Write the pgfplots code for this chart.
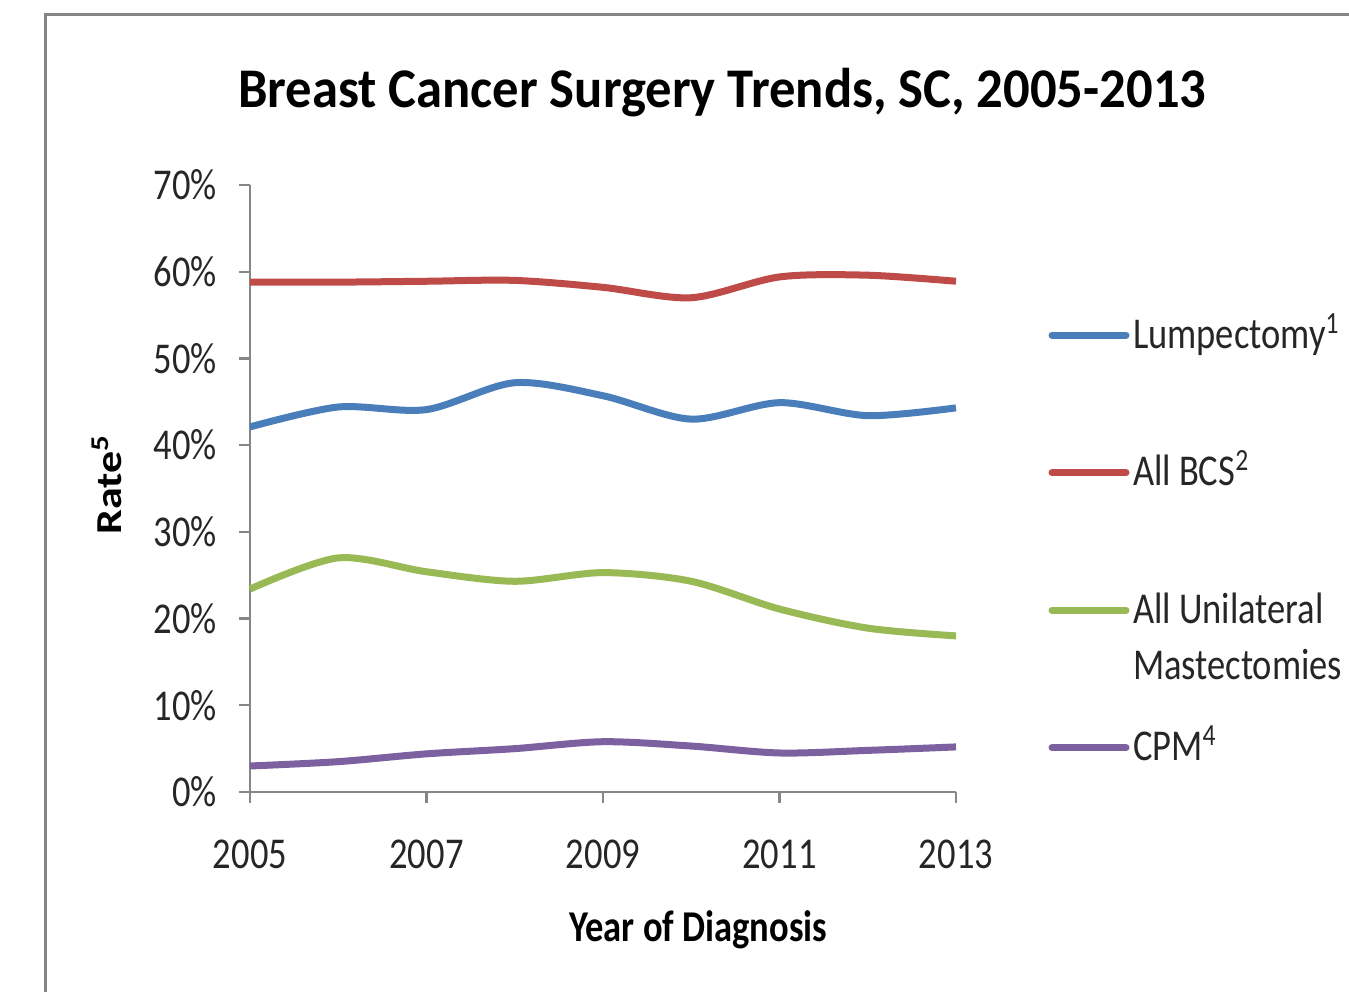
\documentclass[border=0pt]{standalone}
\usepackage{pgfplots}
\pgfplotsset{compat=1.18}
\usepackage{graphicx}
\usepackage{fontspec}
\setmainfont{Carlito}[FakeStretch=0.83]
\newfontfamily\titlefont{Carlito}[FakeStretch=0.94]
\newfontfamily\plainfont{Carlito}
\definecolor{cblue}{HTML}{4A7EBB}
\definecolor{cred}{HTML}{BE4B48}
\definecolor{cgreen}{HTML}{98B954}
\definecolor{cpurple}{HTML}{7D60A0}
\definecolor{axgray}{HTML}{868686}
\newcommand{\lstrut}{\rule[-37pt]{0pt}{57pt}}
\begin{document}
\begin{tikzpicture}
\useasboundingbox (-125pt,-99.5pt) rectangle (549.5pt,396pt);
\draw[color=axgray, line width=1.5pt] (-102pt,-150pt) -- (-102pt,388.5pt) -- (620pt,388.5pt);
\begin{axis}[
  at={(0pt,0pt)}, anchor=south west,
  scale only axis, width=353pt, height=303.5pt,
  xmin=2005, xmax=2013, ymin=0, ymax=70,
  axis lines=left, axis line style={axgray, line width=1.2pt, -},
  tick align=outside, major tick length=5.5pt,
  tick style={axgray, line width=1.2pt},
  xtick={2005,2007,2009,2011,2013},
  xticklabels={2005,2007,2009,2011,2013},
  ytick={0,10,20,30,40,50,60,70},
  yticklabels={0\%,10\%,20\%,30\%,40\%,50\%,60\%,70\%},
  ticklabel style={font=\fontsize{22}{26}\selectfont, text=black!85},
  xticklabel style={yshift=-15pt},
  yticklabel style={xshift=-7.5pt},
  title={\titlefont\bfseries Breast Cancer Surgery Trends, SC, 2005-2013},
  title style={at={(rel axis cs:0.669,1)}, anchor=base, yshift=33pt, font=\fontsize{28}{32}\selectfont},
  xlabel={Year of Diagnosis},
  xlabel style={at={(rel axis cs:0.635,0)}, anchor=center, yshift=-69pt, font=\bfseries\fontsize{22}{26}\selectfont},
  ylabel={\scalebox{1}[0.83]{\plainfont\bfseries Rate\textsuperscript{5}}},
  ylabel style={at={(rel axis cs:0,0.506)}, anchor=center, yshift=71.5pt, font=\fontsize{22}{26}\selectfont},
  legend style={at={(rel axis cs:1.136,0.797)}, anchor=north west, draw=none, fill=none,
    inner sep=0pt, outer sep=0pt, row sep=11.75pt, column sep=3.5pt,
    nodes={inner sep=0pt, text depth=}, font=\fontsize{22}{28}\selectfont, text=black!85},
  legend cell align=left,
  legend image code/.code={\path[draw=none, fill=none] (0pt,0pt) -- (37pt,0pt); \draw[#1, line cap=round, overlay] (0pt,15pt) -- (37pt,15pt);},
  every axis plot/.append style={line width=3.5pt, smooth, tension=0.5, no marks},
  clip=false,
]
\addplot[cblue] coordinates {(2005,42.1) (2006,44.4) (2007,44.1) (2008,47.2) (2009,45.7) (2010,43.0) (2011,44.9) (2012,43.4) (2013,44.3)};
\addlegendentry{\lstrut Lumpectomy\textsuperscript{1}}
\addplot[cred] coordinates {(2005,58.8) (2006,58.8) (2007,58.9) (2008,59.0) (2009,58.2) (2010,57.0) (2011,59.4) (2012,59.6) (2013,58.9)};
\addlegendentry{\lstrut All BCS\textsuperscript{2}}
\addplot[cgreen] coordinates {(2005,23.4) (2006,27.0) (2007,25.4) (2008,24.3) (2009,25.3) (2010,24.3) (2011,21.1) (2012,18.9) (2013,18.0)};
\addlegendentry{\lstrut\begin{tabular}[t]{@{}l@{}}All Unilateral\\Mastectomies\end{tabular}}
\addplot[cpurple] coordinates {(2005,3.0) (2006,3.5) (2007,4.4) (2008,5.0) (2009,5.8) (2010,5.3) (2011,4.5) (2012,4.8) (2013,5.2)};
\addlegendentry{\lstrut CPM\textsuperscript{4}}
\end{axis}
\end{tikzpicture}
\end{document}
